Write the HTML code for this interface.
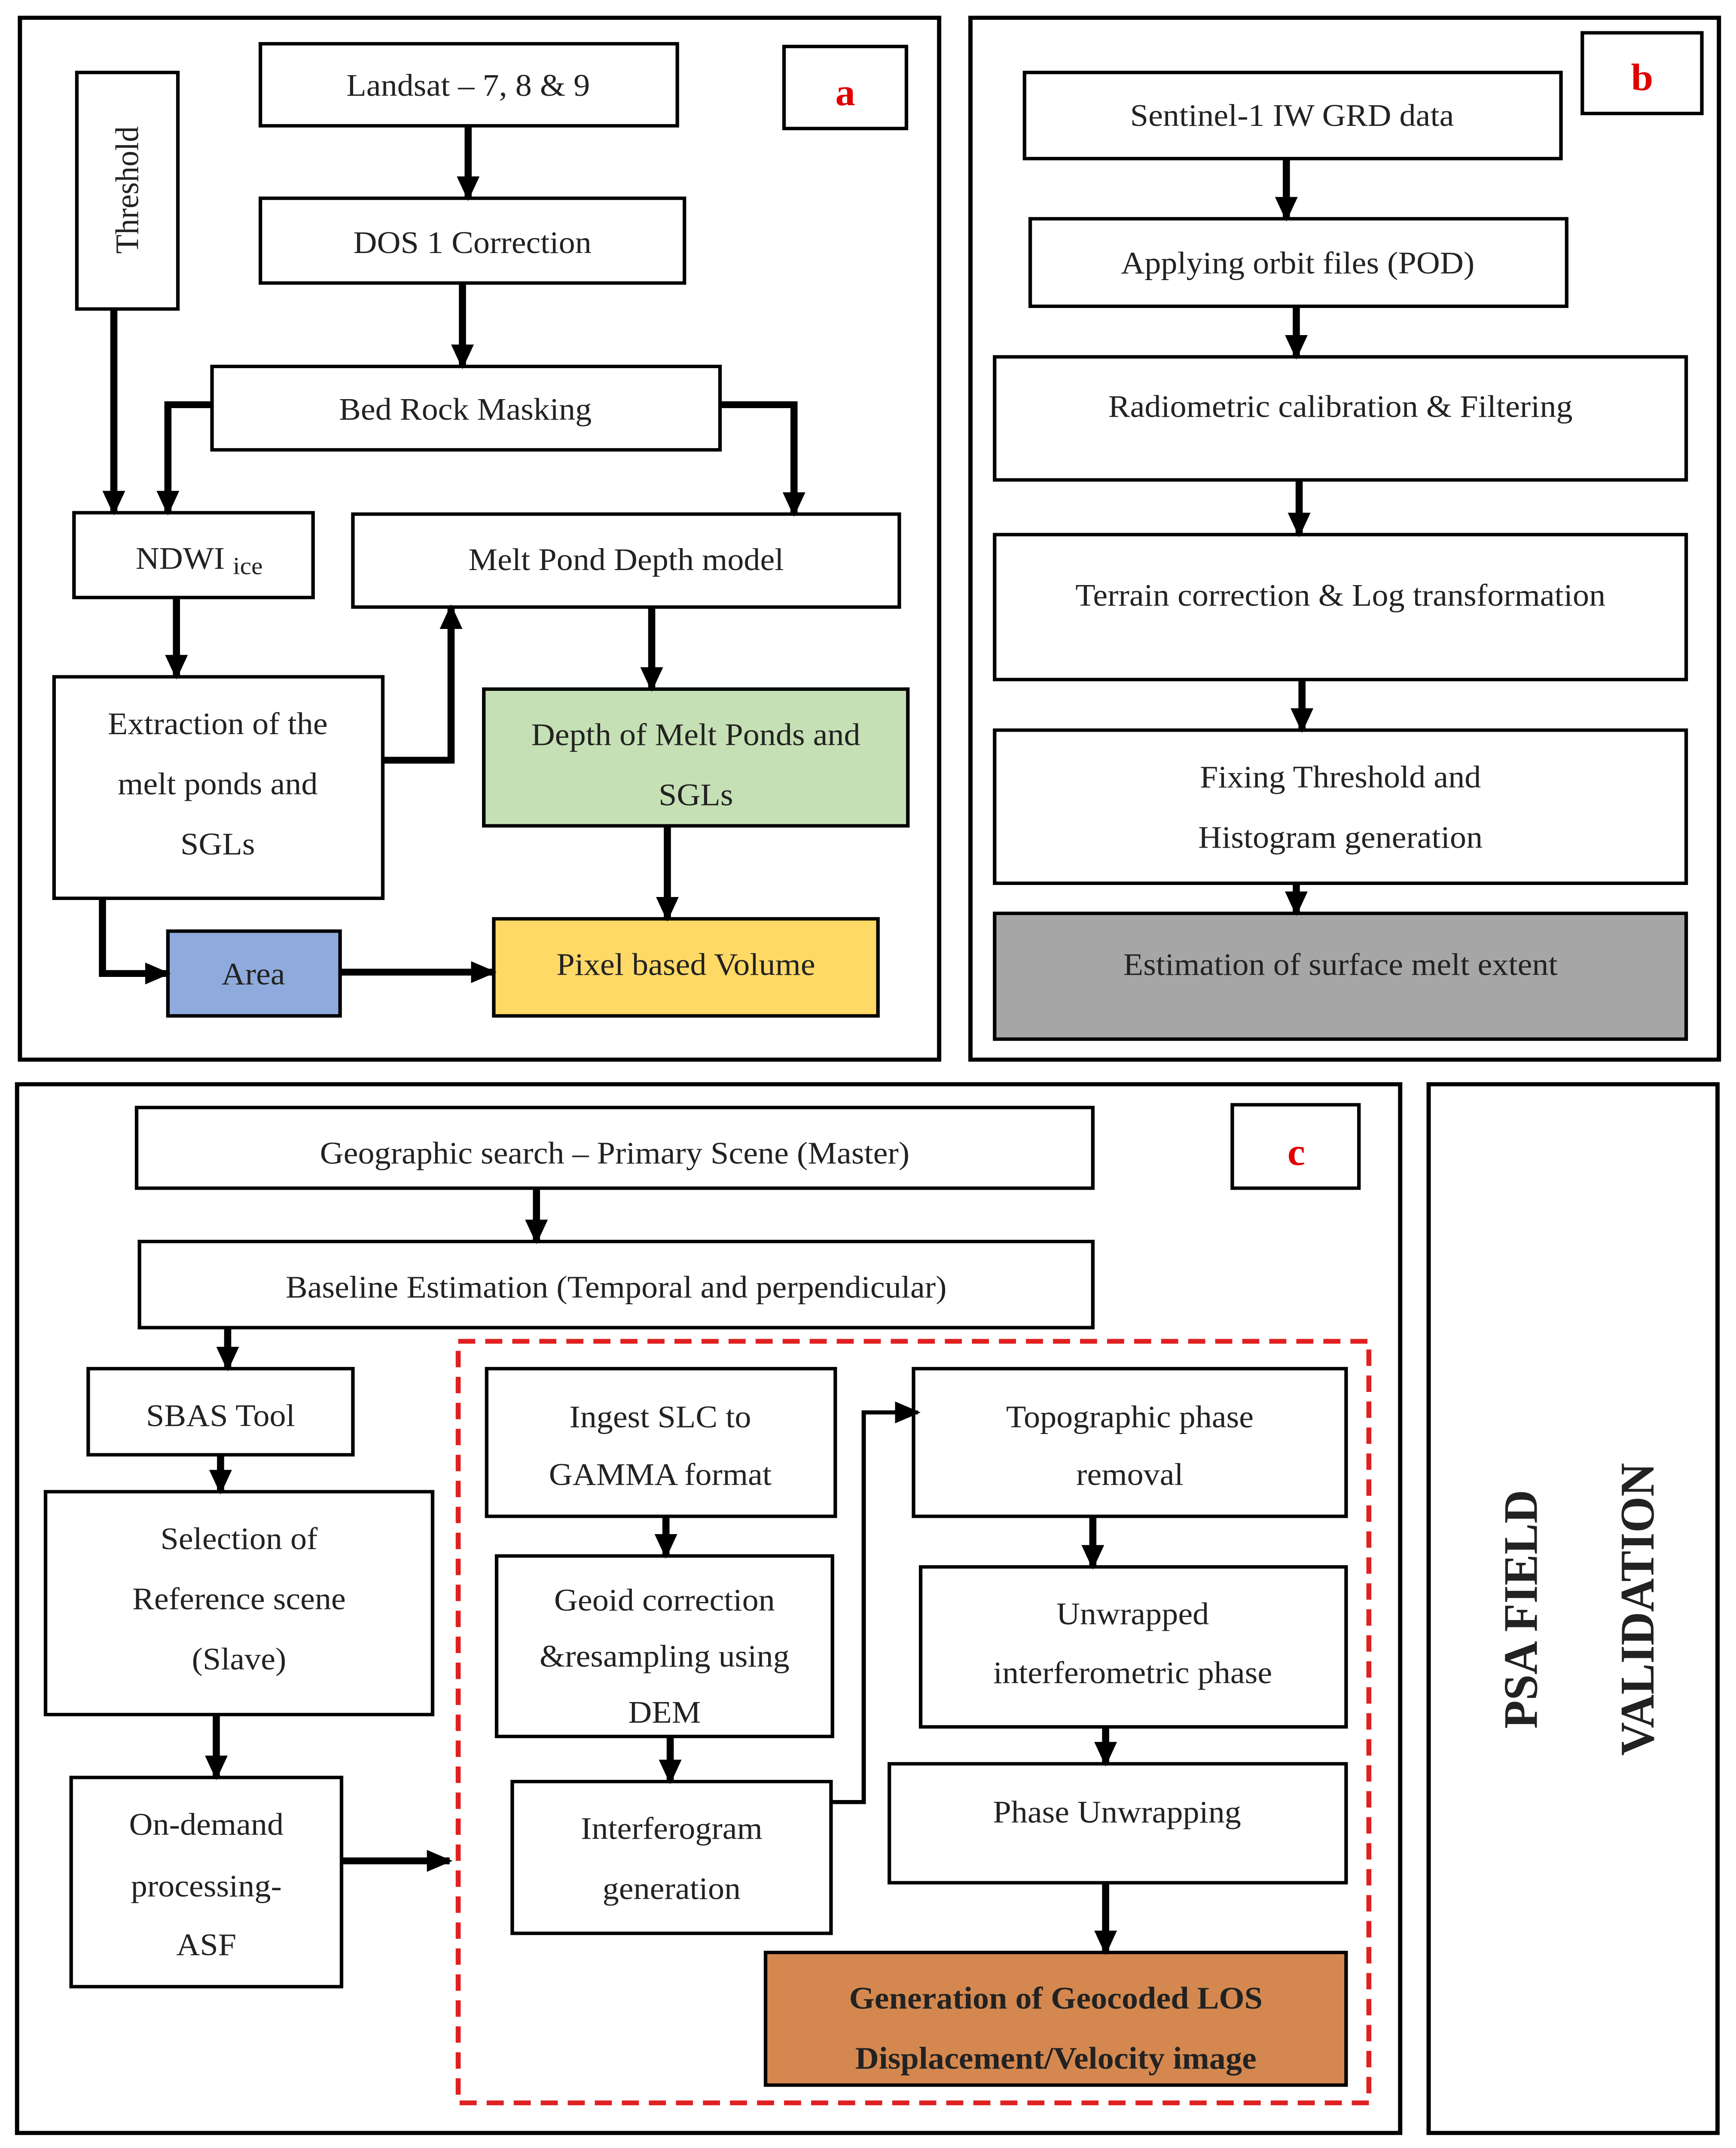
<!DOCTYPE html>
<html><head><meta charset="utf-8"><style>
html,body{margin:0;padding:0;background:#fff;width:100%;height:100%;overflow:hidden}
svg{display:block;position:fixed;left:0;top:0;width:100vw;height:100vh}
text{font-family:"Liberation Serif",serif;font-size:23px;fill:#222}
</style></head><body>
<svg viewBox="0 0 1220 1571" preserveAspectRatio="none" xmlns="http://www.w3.org/2000/svg">
<defs>
<marker id="ah" markerUnits="userSpaceOnUse" markerWidth="18" markerHeight="16" refX="16" refY="8" orient="auto">
<path d="M0,0 L18,8 L0,16 z" fill="#000"/></marker>
</defs>
<rect width="1220" height="1571" fill="#fff"/>
<g fill="none" stroke="#000" stroke-width="3">
<rect x="14" y="13" width="646" height="762"/>
<rect x="682" y="13" width="526" height="762"/>
<rect x="12" y="793" width="972" height="767"/>
<rect x="1004" y="793" width="203" height="767"/>
</g>
<g stroke="#000" stroke-width="2.5">
<rect x="551" y="34" width="86" height="60" fill="#fff"/>
<rect x="183" y="32" width="293" height="60" fill="#fff"/>
<rect x="54" y="53" width="71" height="173" fill="#fff"/>
<rect x="183" y="145" width="298" height="62" fill="#fff"/>
<rect x="149" y="268" width="357" height="61" fill="#fff"/>
<rect x="52" y="375" width="168" height="62" fill="#fff"/>
<rect x="248" y="376" width="384" height="68" fill="#fff"/>
<rect x="38" y="495" width="231" height="162" fill="#fff"/>
<rect x="340" y="504" width="298" height="100" fill="#c5e0b4"/>
<rect x="118" y="681" width="121" height="62" fill="#8faadc"/>
<rect x="347" y="672" width="270" height="71" fill="#ffd966"/>
<rect x="1112" y="24" width="84" height="59" fill="#fff"/>
<rect x="720" y="53" width="377" height="63" fill="#fff"/>
<rect x="724" y="160" width="377" height="64" fill="#fff"/>
<rect x="699" y="261" width="486" height="90" fill="#fff"/>
<rect x="699" y="391" width="486" height="106" fill="#fff"/>
<rect x="699" y="534" width="486" height="112" fill="#fff"/>
<rect x="699" y="668" width="486" height="92" fill="#a6a6a6"/>
<rect x="866" y="808" width="89" height="61" fill="#fff"/>
<rect x="96" y="810" width="672" height="59" fill="#fff"/>
<rect x="98" y="908" width="670" height="63" fill="#fff"/>
<rect x="62" y="1001" width="186" height="63" fill="#fff"/>
<rect x="32" y="1091" width="272" height="163" fill="#fff"/>
<rect x="50" y="1300" width="190" height="153" fill="#fff"/>
<rect x="342" y="1001" width="245" height="108" fill="#fff"/>
<rect x="349" y="1138" width="236" height="132" fill="#fff"/>
<rect x="360" y="1303" width="224" height="111" fill="#fff"/>
<rect x="642" y="1001" width="304" height="108" fill="#fff"/>
<rect x="647" y="1146" width="299" height="117" fill="#fff"/>
<rect x="625" y="1290" width="321" height="87" fill="#fff"/>
<rect x="538" y="1428" width="408" height="97" fill="#d4884f"/>
</g>
<rect x="322" y="981" width="640" height="557" fill="none" stroke="#e02020" stroke-width="3.5" stroke-dasharray="12,7"/>
<g fill="none" stroke="#000" stroke-width="5" marker-end="url(#ah)">
<path d="M329,92 V145"/>
<path d="M325,207 V268"/>
<path d="M149,296 H118 V375"/>
<path d="M506,296 H558 V376"/>
<path d="M80,226 V375"/>
<path d="M124,437 V495"/>
<path d="M269,556 H317 V444"/>
<path d="M458,444 V504"/>
<path d="M469,604 V672"/>
<path d="M72,657 V712 H118"/>
<path d="M239,711 H347"/>
<path d="M904,116 V160"/>
<path d="M911,224 V261"/>
<path d="M913,351 V391"/>
<path d="M915,497 V534"/>
<path d="M911,646 V668"/>
<path d="M377,869 V908"/>
<path d="M160,971 V1001"/>
<path d="M155,1064 V1091"/>
<path d="M152,1254 V1300"/>
<path d="M240,1361 H316"/>
<path d="M468,1109 V1138"/>
<path d="M471,1270 V1303"/>
<path d="M768,1109 V1146"/>
<path d="M777,1263 V1290"/>
<path d="M777,1377 V1428"/>
</g>
<path d="M584,1318 H607 V1033 H645" fill="none" stroke="#000" stroke-width="3" marker-end="url(#ah)"/>
<g text-anchor="middle">
<text x="594" y="77" style="fill:#e00000;font-weight:bold;font-size:28px">a</text>
<text x="1154" y="66" style="fill:#e00000;font-weight:bold;font-size:28px">b</text>
<text x="911" y="852" style="fill:#e00000;font-weight:bold;font-size:28px">c</text>
<text x="329" y="70">Landsat – 7, 8 &amp; 9</text>
<text transform="translate(97,139) rotate(-90)">Threshold</text>
<text x="332" y="185">DOS 1 Correction</text>
<text x="327" y="307">Bed Rock Masking</text>
<text x="140" y="416">NDWI <tspan style="font-size:18px" dy="4">ice</tspan></text>
<text x="440" y="417">Melt Pond Depth model</text>
<text x="153" y="537">Extraction of the</text>
<text x="153" y="581">melt ponds and</text>
<text x="153" y="625">SGLs</text>
<text x="489" y="545">Depth of Melt Ponds and</text>
<text x="489" y="589">SGLs</text>
<text x="178" y="720">Area</text>
<text x="482" y="713">Pixel based Volume</text>
<text x="908" y="92">Sentinel-1 IW GRD data</text>
<text x="912" y="200">Applying orbit files (POD)</text>
<text x="942" y="305">Radiometric calibration &amp; Filtering</text>
<text x="942" y="443">Terrain correction &amp; Log transformation</text>
<text x="942" y="576">Fixing Threshold and</text>
<text x="942" y="620">Histogram generation</text>
<text x="942" y="713">Estimation of surface melt extent</text>
<text x="432" y="851">Geographic search – Primary Scene (Master)</text>
<text x="433" y="949">Baseline Estimation (Temporal and perpendicular)</text>
<text x="155" y="1043">SBAS Tool</text>
<text x="168" y="1133">Selection of</text>
<text x="168" y="1177">Reference scene</text>
<text x="168" y="1221">(Slave)</text>
<text x="145" y="1342">On-demand</text>
<text x="145" y="1387">processing-</text>
<text x="145" y="1430">ASF</text>
<text x="464" y="1044">Ingest SLC to</text>
<text x="464" y="1086">GAMMA format</text>
<text x="467" y="1178">Geoid correction</text>
<text x="467" y="1219">&amp;resampling using</text>
<text x="467" y="1260">DEM</text>
<text x="472" y="1345">Interferogram</text>
<text x="472" y="1389">generation</text>
<text x="794" y="1044">Topographic phase</text>
<text x="794" y="1086">removal</text>
<text x="796" y="1188">Unwrapped</text>
<text x="796" y="1231">interferometric phase</text>
<text x="785" y="1333">Phase Unwrapping</text>
<text x="742" y="1469" style="font-weight:bold">Generation of Geocoded LOS</text>
<text x="742" y="1513" style="font-weight:bold">Displacement/Velocity image</text>
<text transform="translate(1080,1177) rotate(-90)" style="font-weight:bold;font-size:34px">PSA FIELD</text>
<text transform="translate(1162,1177) rotate(-90)" style="font-weight:bold;font-size:34px">VALIDATION</text>
</g>
</svg>
</body></html>
